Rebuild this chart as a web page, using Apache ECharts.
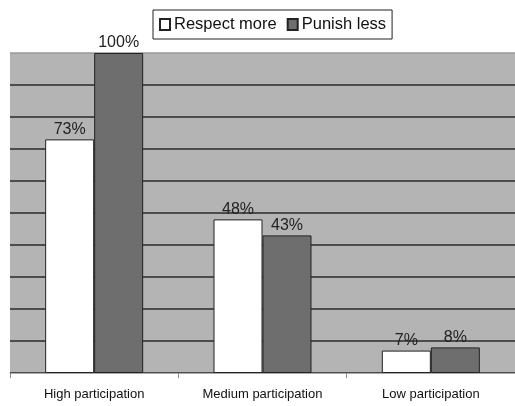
<!DOCTYPE html>
<html><head><meta charset="utf-8">
<script src="https://cdn.jsdelivr.net/npm/echarts@6/dist/echarts.min.js"></script>
<style>html,body{margin:0;padding:0;background:#fff}#c{width:515px;height:406px}</style>
</head><body><div id="c"></div>
<script>
var categories = ['High participation', 'Medium participation', 'Low participation'];
var respectMore = [73, 48, 7];
var punishLess = [100, 43, 8];
var seriesNames = ['Respect more', 'Punish less'];

var chart = echarts.init(document.getElementById('c'), null, {renderer: 'canvas'});
var lbl = {show: true, position: 'top', distance: 2, color: '#222', fontFamily: 'Liberation Sans, Arial, sans-serif', fontSize: 16, formatter: '{c}%'};
var gridColors = [];
for (var i = 0; i < 10; i++) gridColors.push('#2a2a2a');
gridColors.push('#9a9a9a');
chart.setOption({
  animation: false,
  legend: {
    top: 10, left: 153,
    data: seriesNames,
    icon: 'rect',
    itemWidth: 10, itemHeight: 11, itemGap: 10,
    borderColor: '#222', borderWidth: 1, padding: [6, 6, 6, 6],
    textStyle: {fontFamily: 'Liberation Sans, Arial, sans-serif', fontSize: 16.5, color: '#111', padding: [0, 0, 0, -1]}
  },
  grid: {left: 10, top: 53, width: 510, bottom: 33, show: true, backgroundColor: '#b4b4b4', borderWidth: 0},
  xAxis: {
    type: 'category', data: categories,
    axisLine: {lineStyle: {color: '#aaa', width: 1}},
    axisTick: {show: true, length: 5, lineStyle: {color: '#888'}},
    axisLabel: {margin: 15, color: '#111', fontFamily: 'Liberation Sans, Arial, sans-serif', fontSize: 13}
  },
  yAxis: {
    type: 'value', min: 0, max: 100, interval: 10,
    axisLabel: {show: false}, axisLine: {show: false}, axisTick: {show: false},
    splitLine: {lineStyle: {color: gridColors, width: 1.5}}
  },
  series: [
    {name: seriesNames[0], type: 'bar', data: respectMore, barWidth: 49, barGap: '0%',
     itemStyle: {color: '#ffffff', borderColor: '#222', borderWidth: 1}, label: lbl},
    {name: seriesNames[1], type: 'bar', data: punishLess, barWidth: 49,
     itemStyle: {color: '#6e6e6e', borderColor: '#222', borderWidth: 1}, label: lbl}
  ]
});
</script></body></html>
